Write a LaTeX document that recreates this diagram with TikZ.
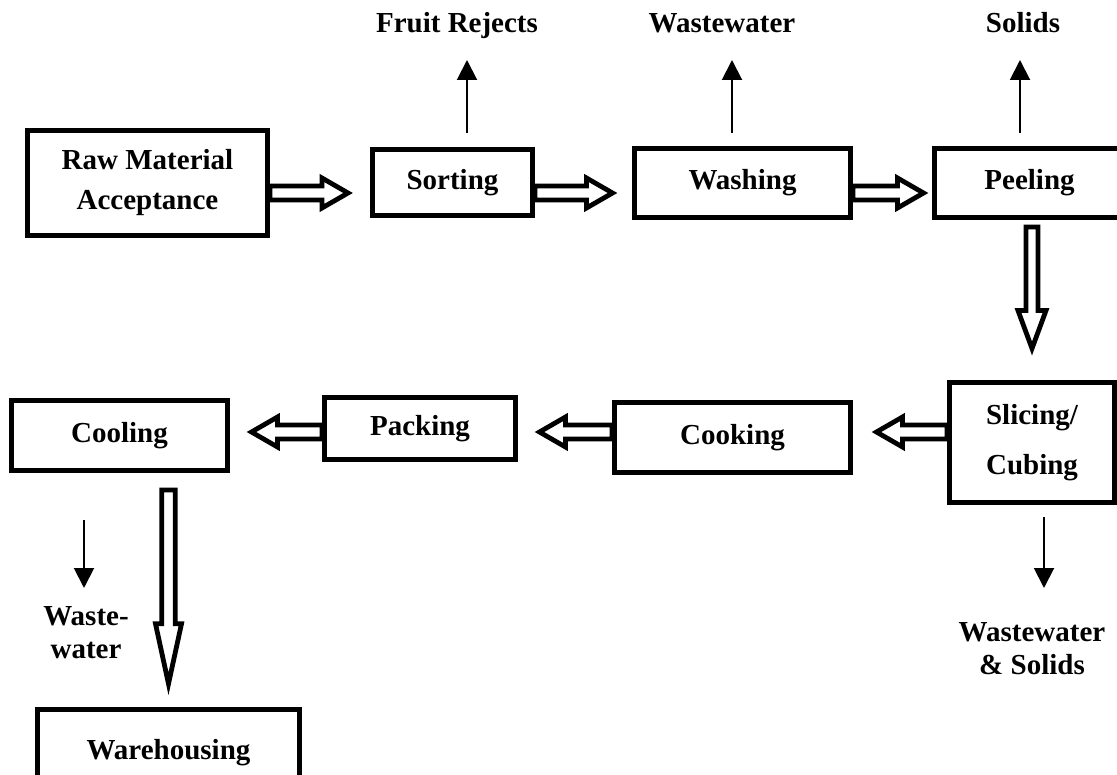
\documentclass[tikz,border=0pt]{standalone}
\usepackage{fontspec}
\setmainfont{Liberation Serif}
\usetikzlibrary{calc,arrows.meta}

% hollow block arrow: dimensions of shaft, head and head length
\pgfkeys{/fat/.cd,
  shaft/.store in=\fatshaft, head/.store in=\fathead, length/.store in=\fatlen,
  shaft=7, head=15, length=26}

% \fatarrow[dims]{start}{end}{gap at start}{gap before end}
\newcommand\fatarrow[5][]{%
  \begingroup
  \pgfkeys{/fat/.cd,#1}%
  \draw[fatline] let \p1=(#2), \p2=(#3),
      \n1={atan2(\y2-\y1,\x2-\x1)}, \n2={veclen(\x2-\x1,\y2-\y1)} in
    [shift={(\p1)}, rotate=\n1]
    (#4,-\fatshaft) -- ({\n2-#5-\fatlen},-\fatshaft)
    -- ({\n2-#5-\fatlen},-\fathead) -- ({\n2-#5},0)
    -- ({\n2-#5-\fatlen},\fathead) -- ({\n2-#5-\fatlen},\fatshaft)
    -- (#4,\fatshaft) -- cycle;
  \endgroup}

\begin{document}
\begin{tikzpicture}[x=1pt,y=-1pt,
  box/.style={draw, fill=white, line width=5pt, inner sep=0pt, align=center,
    font=\fontsize{29}{40}\selectfont\bfseries},
  lbl/.style={inner sep=0pt, align=center,
    font=\fontsize{29}{33}\selectfont\bfseries},
  fatline/.style={draw, fill=white, line width=4.8pt, line join=miter},
  flow/.style={line width=2pt, -{Triangle[width=20pt,length=20pt]}}]

\useasboundingbox (0,0) rectangle (1117,775);
\clip (0,0) rectangle (1117,775);

% process steps
\node[box, minimum width=240, minimum height=105] (raw)   at (147.5,183)  {Raw Material\\Acceptance};
\node[box, minimum width=160, minimum height=66]  (sort)  at (452.5,182.5) {Sorting};
\node[box, minimum width=216, minimum height=69]  (wash)  at (742.5,183)  {Washing};
\node[box, minimum width=190, minimum height=69]  (peel)  at (1029.5,183) {Peeling};
\node[box, minimum width=165, minimum height=120] (slice) at (1032,442.5) {Slicing/\\[10pt]Cubing};
\node[box, minimum width=236, minimum height=70]  (cook)  at (732.5,437.5) {Cooking};
\node[box, minimum width=191, minimum height=62]  (pack)  at (420,428.5)  {Packing};
\node[box, minimum width=216, minimum height=70]  (cool)  at (119.5,435.5) {Cooling};
\node[box, minimum width=262, minimum height=88]  (ware)  at (168.5,753)  {Warehousing};

% by-product labels
\node[lbl, anchor=base] (rejects) at (457,33)  {Fruit Rejects};
\node[lbl, anchor=base] (ww1)     at (722,33)  {Wastewater};
\node[lbl, anchor=base] (solids)  at (1023,33) {Solids};
\node[lbl] (wws)  at (1032,649) {Wastewater\\\& Solids};
\node[lbl] (ww2)  at (86,633)   {Waste-\\water};

% levels of the two horizontal runs of the product flow
\coordinate (row1) at (0,193);
\coordinate (row2) at (0,432);

% main product flow
\fatarrow{raw.east |- row1}{sort.west |- row1}{0}{22}
\fatarrow{sort.east |- row1}{wash.west |- row1}{0}{19.5}
\fatarrow{wash.east |- row1}{peel.west |- row1}{0}{8.5}
\fatarrow[shaft=6, head=14, length=38]{peel.south -| slice.north}{slice.north}{7}{31.5}
\fatarrow{slice.west |- row2}{cook.east |- row2}{0}{23.5}
\fatarrow{cook.west |- row2}{pack.east |- row2}{0}{21.5}
\fatarrow{pack.west |- row2}{cool.east |- row2}{0}{21.5}
\fatarrow[shaft=6.75, head=13, length=60]{cool.south -| ware.north}{ware.north}{17}{22.7}

% by-product streams
\coordinate (sortOut)  at (467,133);
\coordinate (sortTip)  at (467,60);
\coordinate (washOut)  at (732,133);
\coordinate (washTip)  at (732,60);
\coordinate (peelOut)  at (1020,133);
\coordinate (peelTip)  at (1020,60);
\coordinate (sliceOut) at (1044,517);
\coordinate (sliceTip) at (1044,588);
\coordinate (coolOut)  at (84,520);
\coordinate (coolTip)  at (84,588);
\draw[flow] (sortOut) -- (sortTip);
\draw[flow] (washOut) -- (washTip);
\draw[flow] (peelOut) -- (peelTip);
\draw[flow] (sliceOut) -- (sliceTip);
\draw[flow] (coolOut) -- (coolTip);
\end{tikzpicture}
\end{document}
